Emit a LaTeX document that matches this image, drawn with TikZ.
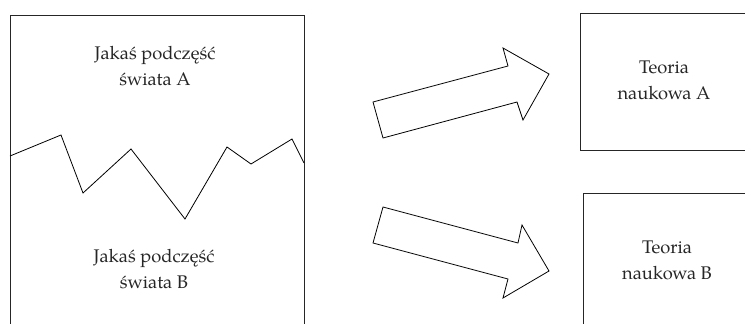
\documentclass[tikz,border=0pt]{standalone}
\usepackage{fontspec}
\setmainfont{texgyrepagella-regular.otf}
\begin{document}
\begin{tikzpicture}[x=1pt,y=-1pt,
  frame/.style={draw=black!85,line width=0.9pt},
  outline/.style={draw=black,line width=0.8pt,line join=miter},
  label/.style={align=center,font=\fontsize{18.3}{26}\selectfont,text=black!85,inner sep=0pt}]
\useasboundingbox (0,0) rectangle (745,324);
% left box (open at the bottom)
\draw[frame] (10,324) -- (10,15) -- (304,15) -- (304,324);
% broken border between the two parts
\draw[outline] (10,156) -- (61,135) -- (83,193) -- (131,149) -- (185,219) -- (227,147) -- (251,164) -- (292,139) -- (304,163);
\node[label] (wA) at (155,66) {Jakaś podczęść\\świata A};
\node[label] (wB) at (154,269) {Jakaś podczęść\\świata B};
% arrows
\draw[outline] (383,138) -- (373,102) -- (508,66) -- (503,48) -- (549,74) -- (523,120) -- (517,102) -- cycle;
\draw[outline] (383,207) -- (373,243) -- (508,279) -- (503,298) -- (549,271) -- (522,225) -- (518,243) -- cycle;
% right boxes (cut off at the picture edge)
\draw[frame] (745,13) -- (580,13) -- (580,150) -- (745,150);
\draw[frame] (745,193) -- (583,193) -- (583,324);
\node[label] (tA) at (664,80) {Teoria\\naukowa A};
\node[label] (tB) at (667,260) {Teoria\\naukowa B};
\end{tikzpicture}
\end{document}
